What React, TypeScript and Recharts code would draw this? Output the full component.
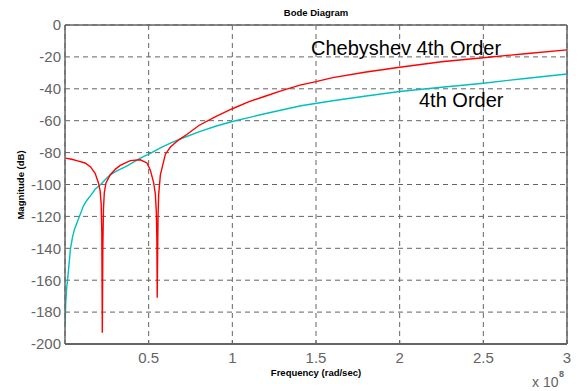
import { LineChart, Line, XAxis, YAxis, CartesianGrid, ReferenceLine } from 'recharts'

// frequency in units of 1e8 rad/sec, magnitude in dB
const chebyFreq = [
  0.002, 0.04, 0.07, 0.12, 0.153, 0.18, 0.2, 0.21, 0.216, 0.22, 0.223, 0.226, 0.23, 0.235,
  0.245, 0.27, 0.3, 0.33, 0.39, 0.45, 0.49, 0.51, 0.53, 0.54, 0.546, 0.549, 0.551, 0.553,
  0.556, 0.56, 0.57, 0.6, 0.63, 0.68, 0.73, 0.8, 0.9, 1.0, 1.1, 1.2, 1.3, 1.41, 1.5, 1.6,
  1.8, 2.0, 2.25, 2.5, 2.75, 3.0,
]
const chebyMag = [
  -83.5, -84.2, -85, -86.5, -89, -93, -99, -104, -112, -130, -193, -140, -115, -105,
  -99, -94, -90.5, -88, -85, -84.5, -86.5, -91, -99, -106, -118, -135, -171, -150,
  -120, -106, -94, -81, -76.5, -72, -68.5, -63, -57.5, -52.5, -48, -44.5, -41, -37.5, -35.5, -33,
  -29.5, -26.5, -23, -20.5, -18, -15.6,
]

const orderFreq = [
  0.001, 0.004, 0.01, 0.017, 0.025, 0.033, 0.045, 0.057, 0.075, 0.09, 0.11, 0.13, 0.153,
  0.18, 0.213, 0.24, 0.27, 0.31, 0.36, 0.41, 0.45, 0.51, 0.57, 0.63, 0.7, 0.8, 0.9, 1.0,
  1.2, 1.41, 1.6, 1.8, 2.0, 2.25, 2.5, 2.75, 3.0,
]
const orderMag = [
  -188, -175, -165, -158, -149, -140, -133, -128, -123, -119, -113.5, -110, -107,
  -103, -100, -97, -94, -91.5, -89, -86, -83.5, -80.5, -77, -74, -71, -67, -63.5, -60.5,
  -55.5, -50.6, -47.5, -44.5, -41.7, -39, -36.5, -33.5, -30.7,
]

const xTicks = [0.5, 1, 1.5, 2, 2.5, 3]
const yTicks = [0, -20, -40, -60, -80, -100, -120, -140, -160, -180, -200]

const chebyData = chebyFreq.map((f, i) => ({ f, mag: chebyMag[i] }))
const orderData = orderFreq.map((f, i) => ({ f, mag: orderMag[i] }))

const GRAY = '#646464'
const tickStyle = { fontSize: 15, fill: GRAY, fontFamily: 'Liberation Sans, Arial, sans-serif' }
const labelFont = 'Liberation Sans, Arial, sans-serif'

export default function App() {
  return (
    <div style={{ position: 'absolute', left: 0, top: 0, width: 579, height: 391, background: '#fff' }}>
      <LineChart
        width={579}
        height={391}
        margin={{ top: 25, right: 12, bottom: 17, left: 0 }}
      >
        <CartesianGrid stroke={GRAY} strokeDasharray="5 4" />
        <XAxis
          type="number"
          dataKey="f"
          domain={[0, 3]}
          ticks={xTicks}
          allowDataOverflow
          height={30}
          tick={tickStyle}
          tickSize={-4}
          tickMargin={12}
          tickLine={{ stroke: GRAY }}
          axisLine={{ stroke: GRAY, strokeWidth: 2 }}
        />
        <YAxis
          type="number"
          domain={[-200, 0]}
          ticks={yTicks}
          allowDataOverflow
          width={65}
          tick={tickStyle}
          tickSize={0}
          tickMargin={4}
          tickLine={false}
          axisLine={{ stroke: GRAY, strokeWidth: 1.5 }}
        />
        <ReferenceLine y={0} stroke={GRAY} strokeWidth={1.5} />
        <ReferenceLine x={3} stroke={GRAY} strokeWidth={1.5} />
        <Line
          data={orderData}
          dataKey="mag"
          type="linear"
          stroke="#00bfbf"
          strokeWidth={1.4}
          dot={false}
          isAnimationActive={false}
        />
        <Line
          data={chebyData}
          dataKey="mag"
          type="linear"
          stroke="#ff0000"
          strokeWidth={1.4}
          dot={false}
          isAnimationActive={false}
        />
      </LineChart>
      <svg
        width={579}
        height={391}
        style={{ position: 'absolute', left: 0, top: 0, pointerEvents: 'none' }}
      >
        <text x={316} y={16} textAnchor="middle" fontFamily={labelFont} fontWeight="bold" fontSize={9.5} fill="#000">
          Bode Diagram
        </text>
        <text
          x={0}
          y={0}
          transform="translate(24 185) rotate(-90)"
          textAnchor="middle"
          fontFamily={labelFont}
          fontWeight="bold"
          fontSize={9.5}
          fill="#000"
        >
          Magnitude (dB)
        </text>
        <text x={316} y={376} textAnchor="middle" fontFamily={labelFont} fontWeight="bold" fontSize={9.5} fill="#000">
          Frequency (rad/sec)
        </text>
        <text x={532} y={387} fontFamily={labelFont} fontSize={14} fill={GRAY}>
          x 10
        </text>
        <text x={559} y={377} fontFamily={labelFont} fontWeight="bold" fontSize={9} fill={GRAY}>
          8
        </text>
        <text x={311} y={55} fontFamily={labelFont} fontSize={20} fill="#000">
          Chebyshev 4th Order
        </text>
        <text x={419} y={107} fontFamily={labelFont} fontSize={20} fill="#000">
          4th Order
        </text>
      </svg>
    </div>
  )
}
